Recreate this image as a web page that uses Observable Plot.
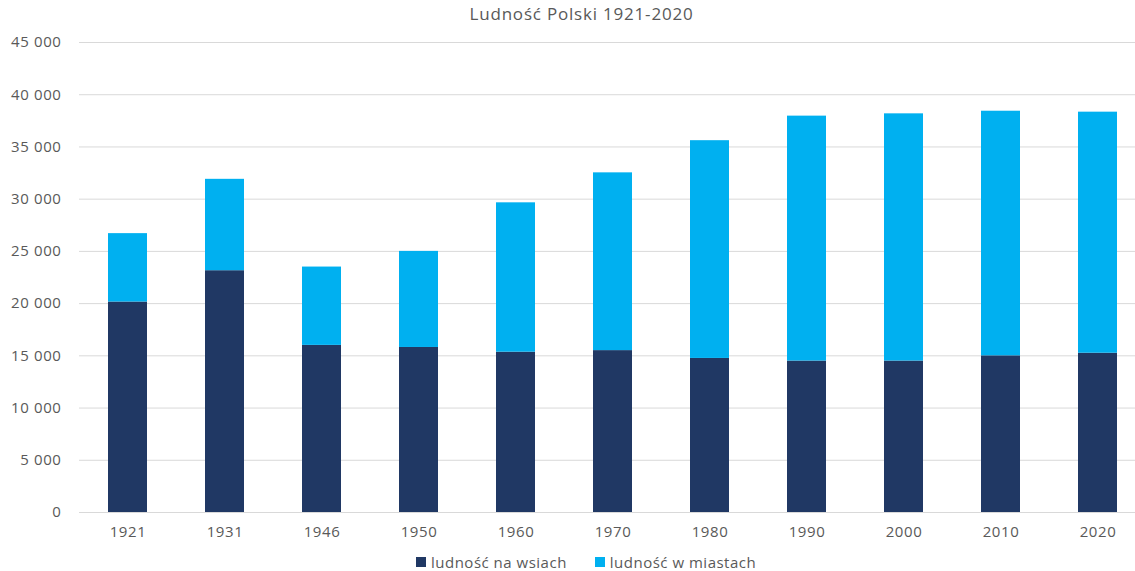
<!DOCTYPE html>
<html>
<head>
<meta charset="utf-8">
<script src="https://cdn.jsdelivr.net/npm/d3@7"></script>
<script src="https://cdn.jsdelivr.net/npm/@observablehq/plot@0.6"></script>
<style>
  body { margin: 0; background: #fff; font-family: "Open Sans", sans-serif; color: #595959; }
  #wrap { position: relative; width: 1135px; height: 571px; overflow: hidden; }
  #title { position: absolute; left: 14px; top: 2px; width: 1135px; text-align: center; font-size: 17px; letter-spacing: 0.8px; color: #595959; }
  #chart { position: absolute; left: 0; top: 28px; }
  #legend { position: absolute; left: 416px; top: 552px; display: flex; align-items: center; font-size: 15px; letter-spacing: 0.5px; color: #595959; white-space: nowrap; }
  .sw { width: 10px; height: 10px; display: inline-block; margin-right: 5px; }
  .item { display: flex; align-items: center; margin-right: 28px; }
</style>
</head>
<body>
<div id="wrap">
  <div id="title">Ludność Polski 1921-2020</div>
  <div id="chart"></div>
  <div id="legend"></div>
</div>
<script>
const years = ["1921","1931","1946","1950","1960","1970","1980","1990","2000","2010","2020"];
const rural = [20150, 23150, 16000, 15800, 15350, 15500, 14750, 14500, 14500, 15000, 15250];
const urban = [6550, 8750, 7500, 9200, 14300, 17020, 20850, 23450, 23670, 23420, 23080];
const seriesNames = ["ludność na wsiach", "ludność w miastach"];
const seriesColors = ["#203864", "#00B0F0"];
const yTicks = [0, 5000, 10000, 15000, 20000, 25000, 30000, 35000, 40000, 45000];

const data = [];
years.forEach((y, i) => data.push({year: y, series: seriesNames[0], value: rural[i]}));
years.forEach((y, i) => data.push({year: y, series: seriesNames[1], value: urban[i]}));

const fmt = d => d3.format(",")(d).replace(/,/g, " ");

const chart = Plot.plot({
  width: 1135,
  height: 520,
  marginTop: 14,
  marginBottom: 36,
  marginLeft: 79,
  marginRight: 0,
  style: {fontFamily: "Open Sans, sans-serif", fontSize: "15px", color: "#595959", background: "white", letterSpacing: "0.6px"},
  x: {domain: years, range: [79, 1146], paddingInner: 0.6, paddingOuter: 0.3, label: null},
  y: {domain: [0, 45000], label: null},
  color: {domain: seriesNames, range: seriesColors},
  marks: [
    Plot.gridY(yTicks, {stroke: "#d9d9d9", strokeOpacity: 1, strokeWidth: 1}),
    Plot.barY(data, Plot.stackY({x: "year", y: "value", fill: "series", order: null})),
    Plot.axisY(yTicks, {tickSize: 0, tickPadding: 18, tickFormat: fmt, fill: "#595959", fontSize: 15, label: null}),
    Plot.axisX({tickSize: 0, tickPadding: 14, fill: "#595959", fontSize: 15, label: null})
  ]
});
document.getElementById("chart").appendChild(chart);

const legend = document.getElementById("legend");
seriesNames.forEach((n, i) => {
  const it = document.createElement("div");
  it.className = "item";
  const sw = document.createElement("span");
  sw.className = "sw";
  sw.style.background = seriesColors[i];
  it.appendChild(sw);
  it.appendChild(document.createTextNode(n));
  legend.appendChild(it);
});
</script>
</body>
</html>
